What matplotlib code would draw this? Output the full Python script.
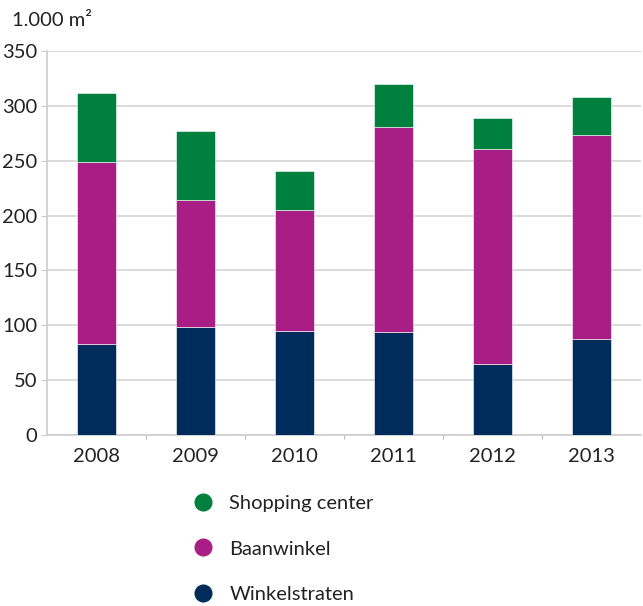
import matplotlib
matplotlib.use("Agg")
import matplotlib.pyplot as plt
from matplotlib.lines import Line2D
import numpy as np

plt.rcParams['font.family'] = ['Lato', 'DejaVu Sans']

years = ['2008', '2009', '2010', '2011', '2012', '2013']
winkelstraten = [83, 98, 95, 94, 65, 87.5]
baanwinkel = [166, 116, 110, 187, 195.5, 185.5]
shopping_center = [63, 63.5, 36, 39, 28.5, 35]

series_names = ['Shopping center', 'Baanwinkel', 'Winkelstraten']
colors = {'Winkelstraten': '#002C5B', 'Baanwinkel': '#A91E84', 'Shopping center': '#00803F'}

FS = 14.5
TXT = '#222222'

fig = plt.figure(figsize=(6.43, 6.06), dpi=100)
ax = fig.add_axes([47 / 643, 1 - 435 / 606, 594 / 643, 384 / 606])

x = np.arange(len(years))
w = 0.4
ax.bar(x, winkelstraten, w, color=colors['Winkelstraten'], edgecolor='white', linewidth=0.4, zorder=3)
ax.bar(x, baanwinkel, w, bottom=winkelstraten, color=colors['Baanwinkel'],
       edgecolor='white', linewidth=0.4, zorder=3)
bottom2 = np.array(winkelstraten) + np.array(baanwinkel)
ax.bar(x, shopping_center, w, bottom=bottom2, color=colors['Shopping center'],
       edgecolor='white', linewidth=0.4, zorder=3)

ax.set_xlim(-0.5, len(years) - 0.5)
ax.set_ylim(0, 350)
ax.set_yticks(range(0, 351, 50))
ax.yaxis.grid(True, color='#d4d4d4', linewidth=1.2, zorder=0)
ax.set_axisbelow(True)

ax.set_xticks(x)
ax.set_xticklabels(years, fontsize=FS, color=TXT)
ax.tick_params(axis='x', length=0, pad=9)
ax.set_xticks(np.arange(0.5, len(years) - 0.5, 1), minor=True)
ax.tick_params(axis='x', which='minor', length=3, color='#aaaaaa', direction='out')
ax.tick_params(axis='y', length=4, color='#cccccc', labelsize=FS, labelcolor=TXT, pad=3)

for s in ['top', 'right']:
    ax.spines[s].set_visible(False)
for s in ['left', 'bottom']:
    ax.spines[s].set_color('#cccccc')
    ax.spines[s].set_linewidth(1.2)

fig.text(12 / 643, 1 - 20 / 606, '1.000 m²', fontsize=FS, color=TXT, va='center', ha='left')

handles = [Line2D([0], [0], marker='o', linestyle='none', markersize=12,
                  markerfacecolor=colors[n], markeredgecolor=colors[n]) for n in series_names]
fig.legend(handles, series_names, loc='upper left', bbox_to_anchor=(170 / 643, 1 - 477 / 606),
           frameon=False, fontsize=FS, labelspacing=1.4, handletextpad=0.55, handlelength=1.5,
           labelcolor=TXT)

fig.savefig('out.png', dpi=100)
